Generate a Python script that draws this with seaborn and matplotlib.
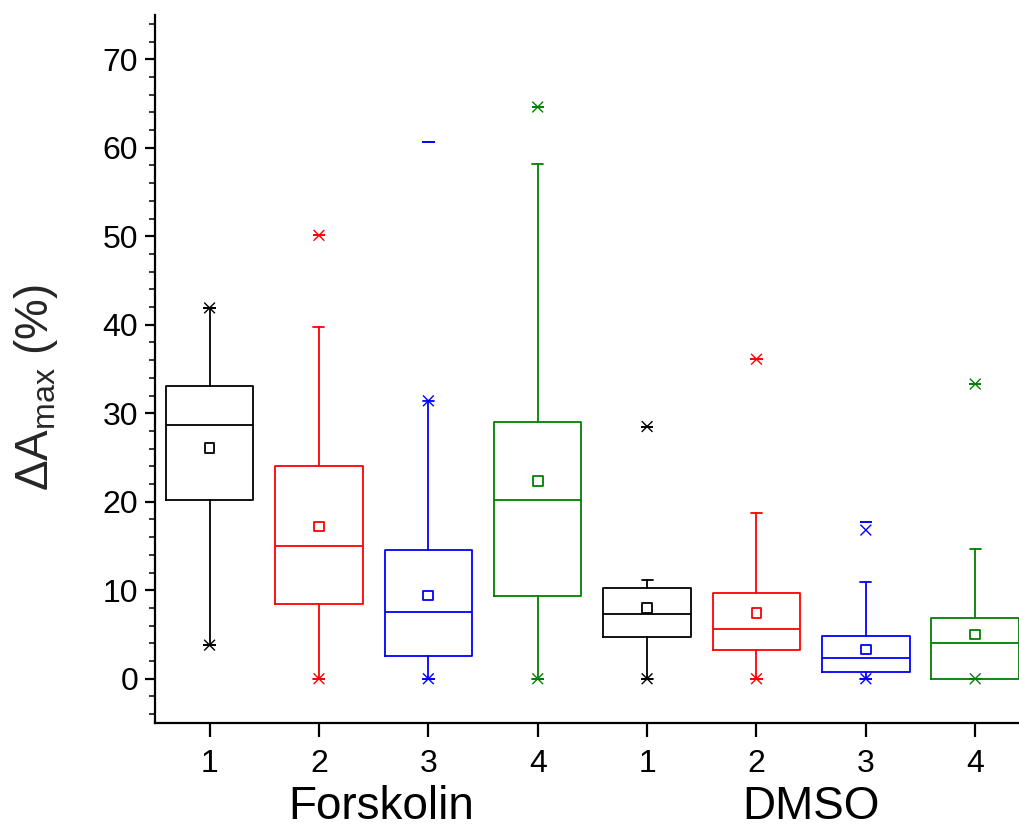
import matplotlib
matplotlib.use("Agg")
import matplotlib.pyplot as plt
from matplotlib.ticker import MultipleLocator
import numpy as np
import pandas as pd
import seaborn as sns

# Summary statistics of each box, four doses per treatment
treatments = ["Forskolin", "DMSO"]
doses = ["1", "2", "3", "4"]
q1 = [20.2, 8.4, 2.6, 9.3, 4.7, 3.3, 0.8, 0.0]
median = [28.7, 15.0, 7.5, 20.2, 7.3, 5.6, 2.3, 4.0]
q3 = [33.1, 24.0, 14.5, 29.0, 10.2, 9.7, 4.8, 6.9]
mean = [26.1, 17.2, 9.4, 22.3, 8.0, 7.4, 3.3, 5.0]
whisker_lo = [3.8, 0.0, 0.0, 0.0, 0.0, 0.0, 0.0, 0.0]
whisker_hi = [41.9, 39.7, 31.4, 58.2, 11.2, 18.7, 10.9, 14.7]
p01 = [3.8, 0.0, 0.0, 0.0, 0.0, 0.0, 0.0, 0.0]
p99 = [41.9, 50.1, 31.4, 64.6, 28.5, 36.1, 16.8, 33.3]
vmin = [3.8, 0.0, 0.0, 0.0, 0.0, 0.0, 0.0, 0.0]
vmax = [41.9, 50.1, 60.6, 64.6, 28.5, 36.1, 17.7, 33.3]

dose_colors = {"1": "#000000", "2": "#FF0000", "3": "#0000FF", "4": "#008000"}

sns.set_theme(style="ticks")
plt.rcParams["font.family"] = ["Liberation Sans", "DejaVu Sans"]
plt.rcParams["mathtext.fontset"] = "custom"
plt.rcParams["mathtext.rm"] = "Liberation Sans"
plt.rcParams["mathtext.it"] = "Liberation Sans"

n = len(q1)
positions = np.arange(1, n + 1)
dose_of = [doses[i % 4] for i in range(n)]
colors = [dose_colors[d] for d in dose_of]

fig = plt.figure(figsize=(10.19, 8.32), dpi=100)
ax = fig.add_axes([0.152, 0.131, 0.848, 0.851])

# Boxes from the precomputed statistics
stats = []
for i in range(n):
    stats.append(dict(q1=q1[i], med=median[i], q3=q3[i],
                      whislo=whisker_lo[i], whishi=whisker_hi[i],
                      mean=mean[i], fliers=[]))
for i in range(n):
    c = colors[i]
    lw = 1.3
    ax.bxp([stats[i]], positions=[positions[i]], widths=0.8, capwidths=0.1,
           showmeans=False, showfliers=False, patch_artist=False,
           boxprops=dict(color=c, linewidth=lw),
           medianprops=dict(color=c, linewidth=lw),
           whiskerprops=dict(color=c, linewidth=lw),
           capprops=dict(color=c, linewidth=lw),
           manage_ticks=False)

# Mean, percentile and extreme markers
df = pd.DataFrame({"pos": positions, "dose": dose_of, "mean": mean,
                   "p01": p01, "p99": p99, "vmin": vmin, "vmax": vmax})

sns.scatterplot(data=df, x="pos", y="mean", hue="dose", palette=dose_colors,
                marker="s", s=50, linewidth=1.3, legend=False, ax=ax, zorder=5)
mean_pts = ax.collections[-1]
mean_pts.set_facecolor("none")
mean_pts.set_edgecolor(colors)

for col in ["p01", "p99"]:
    sns.scatterplot(data=df, x="pos", y=col, hue="dose", palette=dose_colors,
                    marker="x", s=60, linewidth=1.0, legend=False, ax=ax, zorder=5)
for col in ["vmin", "vmax"]:
    sns.scatterplot(data=df, x="pos", y=col, hue="dose", palette=dose_colors,
                    marker="_", s=80, linewidth=1.4, legend=False, ax=ax, zorder=5)

# Axes
ax.set_xlim(0.5, 8.4)
ax.set_ylim(-5, 75)
ax.set_xticks(positions)
ax.set_xticklabels(dose_of)
ax.yaxis.set_major_locator(MultipleLocator(10))
ax.yaxis.set_minor_locator(MultipleLocator(2))
ax.set_yticks(np.arange(0, 71, 10))
ax.set_xlabel("")
ax.set_ylabel(r"$\Delta\mathrm{A}_{\mathrm{max}}$ (%)", fontsize=33)
ax.yaxis.set_label_coords(-0.110, 0.473)

for side in ["top", "right"]:
    ax.spines[side].set_visible(False)
for side in ["left", "bottom"]:
    ax.spines[side].set_linewidth(1.6)
    ax.spines[side].set_color("black")

ax.tick_params(axis="y", which="major", direction="out", length=7, width=1.6,
               labelsize=23, pad=5, colors="black")
ax.tick_params(axis="y", which="minor", direction="out", length=4, width=1.3)
ax.tick_params(axis="x", which="major", direction="out", length=10, width=1.6,
               labelsize=23, pad=9, colors="black")
ax.tick_params(axis="x", which="minor", bottom=False)
ax.grid(False)

# Treatment group labels under the dose ticks
trans = matplotlib.transforms.blended_transform_factory(ax.transData, ax.transAxes)
ax.text(2.57, -0.118, treatments[0], transform=trans, ha="center", va="center",
        fontsize=33, color="black")
ax.text(6.5, -0.118, treatments[1], transform=trans, ha="center", va="center",
        fontsize=33, color="black")

fig.savefig("out.png", dpi=100)
